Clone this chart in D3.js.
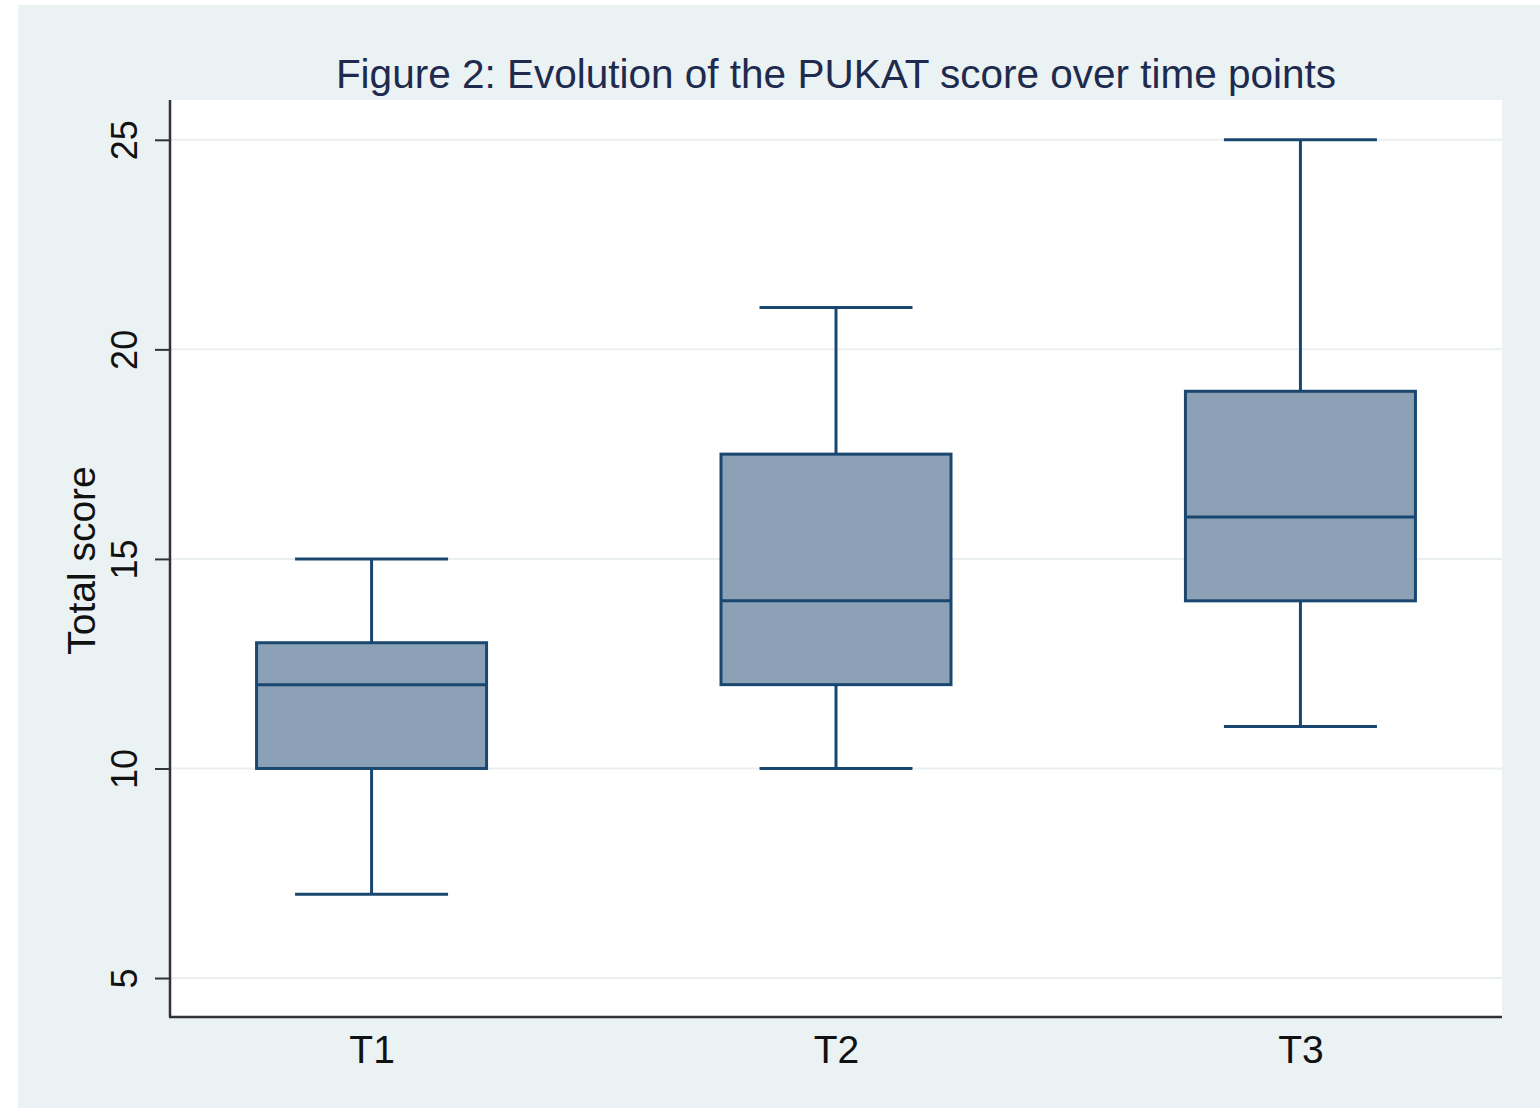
<!DOCTYPE html>
<html>
<head>
<meta charset="utf-8">
<script src="https://cdn.jsdelivr.net/npm/d3@7"></script>
<style>
  html, body { margin: 0; padding: 0; background: #ffffff; }
  svg { display: block; font-family: "Liberation Sans", Arial, sans-serif; }
</style>
</head>
<body>
<svg id="chart" width="1540" height="1110"></svg>
<script>
// Data
const timePoints = ['T1', 'T2', 'T3'];
const whiskerLow = [7, 10, 11];
const quartile1 = [10, 12, 14];
const medians = [12, 14, 16];
const quartile3 = [13, 17.5, 19];
const whiskerHigh = [15, 21, 25];
const yTicks = [5, 10, 15, 20, 25];

const boxes = timePoints.map((t, i) => ({
    label: t,
    lo: whiskerLow[i], q1: quartile1[i], med: medians[i], q3: quartile3[i], hi: whiskerHigh[i]
}));

const svg = d3.select('#chart');
const width = 1540, height = 1110;
// plot region
const plotLeft = 170, plotRight = 1502, plotTop = 100, plotBottom = 1017;
const navy = '#1a476f';

// outer graph background
svg.append('rect')
    .attr('x', 18).attr('y', 5)
    .attr('width', width - 18).attr('height', 1103)
    .attr('fill', '#eaf2f3');

// plot region background
svg.append('rect')
    .attr('x', plotLeft).attr('y', plotTop)
    .attr('width', plotRight - plotLeft).attr('height', plotBottom - plotTop)
    .attr('fill', '#ffffff');

const y = d3.scaleLinear()
    .domain([4.07, 25.95])
    .range([plotBottom, plotTop]);

const x = d3.scalePoint()
    .domain(timePoints)
    .range([plotLeft, plotRight])
    .padding(0.434);

// grid lines
svg.append('g')
    .selectAll('line')
    .data(yTicks)
    .enter()
    .append('line')
    .attr('x1', plotLeft).attr('x2', plotRight)
    .attr('y1', d => y(d)).attr('y2', d => y(d))
    .attr('stroke', '#eaeff1')
    .attr('stroke-width', 2);

// y axis
const yAxis = svg.append('g')
    .attr('transform', `translate(${plotLeft},0)`)
    .call(d3.axisLeft(y).tickValues(yTicks).tickSize(15).tickPadding(0).tickSizeOuter(0));
yAxis.select('.domain').remove();
yAxis.selectAll('.tick line').attr('stroke', '#333').attr('stroke-width', 2);
yAxis.selectAll('.tick text').remove();
yAxis.selectAll('.tick')
    .append('text')
    .attr('transform', 'translate(-33,0) rotate(-90)')
    .attr('text-anchor', 'middle')
    .attr('fill', '#111')
    .style('font-size', '36px')
    .text(d => d);

svg.append('line')
    .attr('x1', plotLeft).attr('x2', plotLeft)
    .attr('y1', plotTop).attr('y2', plotBottom)
    .attr('stroke', '#333').attr('stroke-width', 2.5);

// x axis
const xAxis = svg.append('g')
    .attr('transform', `translate(0,${plotBottom})`)
    .call(d3.axisBottom(x).tickSize(0).tickPadding(0));
xAxis.select('.domain').remove();
xAxis.selectAll('.tick text')
    .attr('y', 46)
    .attr('dy', 0)
    .attr('fill', '#111')
    .style('font-size', '39px');

svg.append('line')
    .attr('x1', plotLeft - 1).attr('x2', plotRight)
    .attr('y1', plotBottom).attr('y2', plotBottom)
    .attr('stroke', '#333').attr('stroke-width', 2.5);

// boxes
const boxW = 230, capW = 153;
const g = svg.append('g')
    .selectAll('g')
    .data(boxes)
    .enter()
    .append('g')
    .attr('transform', d => `translate(${x(d.label)},0)`);

g.append('line')
    .attr('x1', 0).attr('x2', 0)
    .attr('y1', d => y(d.q3)).attr('y2', d => y(d.hi))
    .attr('stroke', navy).attr('stroke-width', 3);
g.append('line')
    .attr('x1', 0).attr('x2', 0)
    .attr('y1', d => y(d.q1)).attr('y2', d => y(d.lo))
    .attr('stroke', navy).attr('stroke-width', 3);
g.append('line')
    .attr('x1', -capW / 2).attr('x2', capW / 2)
    .attr('y1', d => y(d.hi)).attr('y2', d => y(d.hi))
    .attr('stroke', navy).attr('stroke-width', 3);
g.append('line')
    .attr('x1', -capW / 2).attr('x2', capW / 2)
    .attr('y1', d => y(d.lo)).attr('y2', d => y(d.lo))
    .attr('stroke', navy).attr('stroke-width', 3);
g.append('rect')
    .attr('x', -boxW / 2)
    .attr('y', d => y(d.q3))
    .attr('width', boxW)
    .attr('height', d => y(d.q1) - y(d.q3))
    .attr('fill', '#8ca1b6')
    .attr('stroke', navy)
    .attr('stroke-width', 3);
g.append('line')
    .attr('x1', -boxW / 2).attr('x2', boxW / 2)
    .attr('y1', d => y(d.med)).attr('y2', d => y(d.med))
    .attr('stroke', navy).attr('stroke-width', 3);

// title
svg.append('text')
    .attr('x', (plotLeft + plotRight) / 2)
    .attr('y', 88)
    .attr('text-anchor', 'middle')
    .attr('fill', '#1e2a4e')
    .style('font-size', '40.5px')
    .text('Figure 2: Evolution of the PUKAT score over time points');

// y axis title
svg.append('text')
    .attr('transform', `translate(95,${(plotTop + plotBottom) / 2 + 2}) rotate(-90)`)
    .attr('text-anchor', 'middle')
    .attr('fill', '#111')
    .style('font-size', '39px')
    .text('Total score');
</script>
</body>
</html>
